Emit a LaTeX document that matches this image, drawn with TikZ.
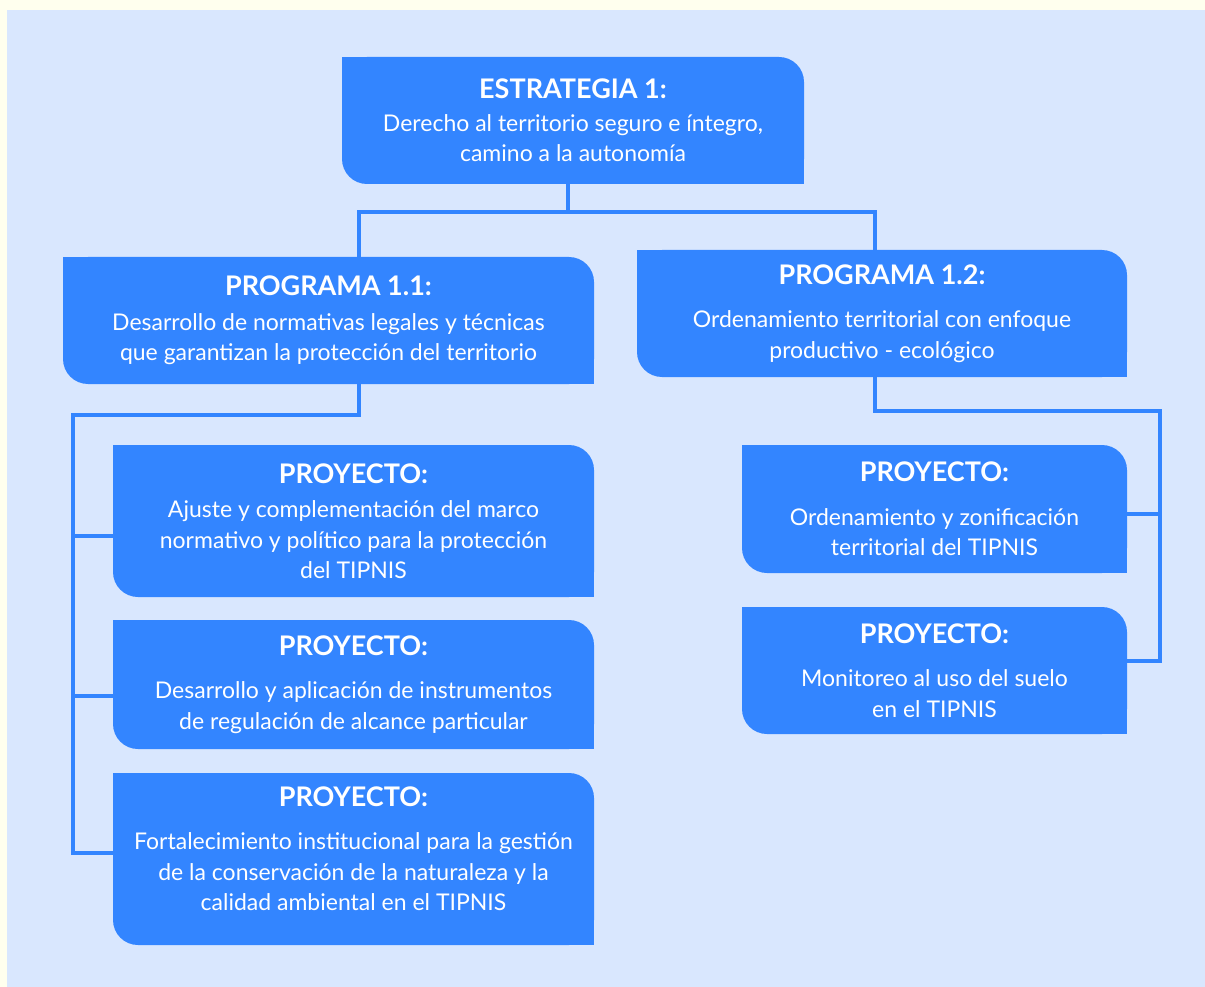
\documentclass[tikz,border=0pt]{standalone}
\usepackage{fontspec}
\setmainfont{Lato}
\usepackage{tikz}
\usetikzlibrary{positioning, calc, backgrounds}
\definecolor{paleyellow}{HTML}{FFFFEE}
\definecolor{paleblue}{HTML}{D9E7FE}
\definecolor{boxblue}{HTML}{3385FF}
\newcommand{\heading}[1]{{\fontsize{27}{30.5}\selectfont\bfseries #1}}
\tikzset{
x=1pt, y=-1pt,
box/.style={%
    rectangle,
    inner sep=0pt, outer sep=0pt,
    align=center,
    text=white,
    % Font
    font=\fontsize{23}{30.5}\selectfont
},
link/.style={draw=boxblue, line width=4pt},
}

\begin{document}
\begin{tikzpicture}
	\useasboundingbox (0,0) rectangle (1205,987);

	\node[box, minimum width=462, minimum height=127] at (573,120.5) (estr)
		{\heading{ESTRATEGIA 1:}\\[2pt]Derecho al territorio seguro e íntegro,\\camino a la autonomía};
	\node[box, minimum width=531, minimum height=127] at (328.5,320.5) (prog1)
		{\heading{PROGRAMA 1.1:}\\[4pt]Desarrollo de normativas legales y técnicas\\que garantizan la protección del territorio};
	\node[box, minimum width=490, minimum height=127] at (882,313.5) (prog2)
		{\heading{PROGRAMA 1.2:}\\[13pt]Ordenamiento territorial con enfoque\\productivo - ecológico};
	\node[box, minimum width=481, minimum height=152] at (353.5,521) (proy11)
		{\heading{PROYECTO:}\\[4pt]Ajuste y complementación del marco\\normativo y político para la protección\\del TIPNIS};
	\node[box, minimum width=481, minimum height=129] at (353.5,684.5) (proy12)
		{\heading{PROYECTO:}\\[13pt]Desarrollo y aplicación de instrumentos\\de regulación de alcance particular};
	\node[box, minimum width=481, minimum height=172] at (353.5,859) (proy13)
		{\heading{PROYECTO:}\\[13pt]Fortalecimiento institucional para la gestión\\de la conservación de la naturaleza y la\\calidad ambiental en el TIPNIS\\[-10pt]};
	\node[box, minimum width=385, minimum height=128] at (934.5,509) (proy21)
		{\heading{PROYECTO:}\\[13pt]Ordenamiento y zonificación\\territorial del TIPNIS};
	\node[box, minimum width=385, minimum height=127] at (934.5,670.5) (proy22)
		{\heading{PROYECTO:}\\[13pt]Monitoreo al uso del suelo\\en el TIPNIS};

	\coordinate (lbus) at (73,415);
	\coordinate (rbus) at (1160,411);

	% background and box shapes
	\begin{scope}[on background layer]
		\fill[paleyellow] (0,0) rectangle (1205,987);
		\fill[paleblue] (7,10) rectangle (1205,987);
		\foreach \n in {estr,prog1,prog2,proy11,proy12,proy13,proy21,proy22} {
			\fill[boxblue, rounded corners=25pt] (\n.north west) rectangle (\n.south east);
			\fill[boxblue] (\n.north west) rectangle ([xshift=30pt,yshift=-30pt]\n.north west);
			\fill[boxblue] (\n.south east) rectangle ([xshift=-30pt,yshift=30pt]\n.south east);
		}
	\end{scope}

	\draw[link] ([xshift=-5pt]estr.south) -- ++(0,28) -| ([xshift=30.5pt]prog1.north);
	\draw[link] ([xshift=-5pt]estr.south) -- ++(0,28) -| ([xshift=-7pt]prog2.north);

	\draw[link] ([xshift=30.5pt]prog1.south) |- (lbus) -- ([yshift=6pt]proy13.west -| lbus) -- ([yshift=6pt]proy13.west);
	\draw[link] ([yshift=-15pt]proy11.west -| lbus) -- ([yshift=-15pt]proy11.west);
	\draw[link] ([yshift=-11pt]proy12.west -| lbus) -- ([yshift=-11pt]proy12.west);

	\draw[link] ([xshift=-7pt]prog2.south) |- (rbus) -- ([yshift=10pt]proy22.east -| rbus) -- ([yshift=10pt]proy22.east);
	\draw[link] ([yshift=-5pt]proy21.east -| rbus) -- ([yshift=-5pt]proy21.east);

\end{tikzpicture}
\end{document}
